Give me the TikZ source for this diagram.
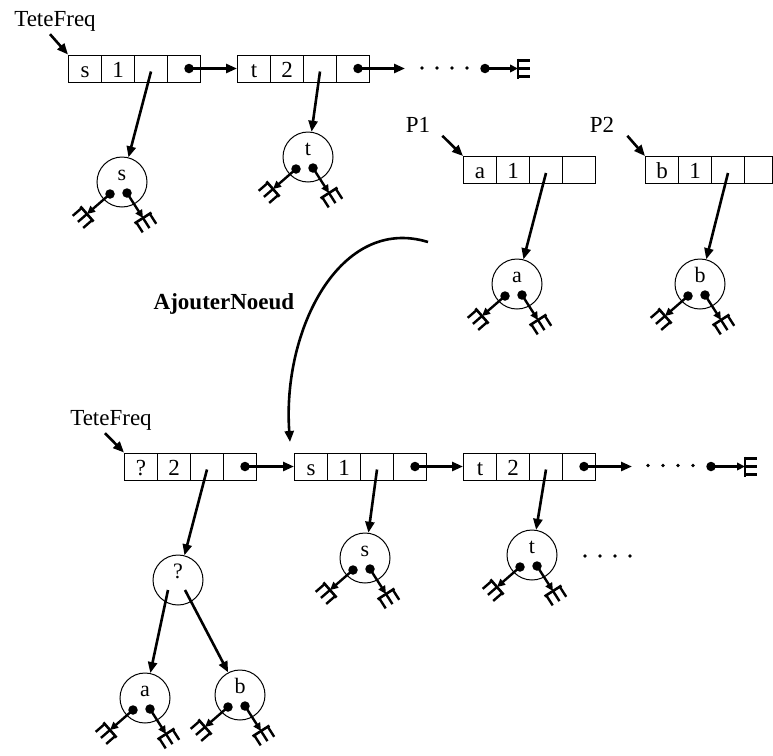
\documentclass[tikz,border=0pt]{standalone}
\usepackage{fontspec}
\setmainfont{Liberation Serif}
\usetikzlibrary{arrows.meta,calc}
\tikzset{
  lab/.style={font=\fontsize{23}{23}\selectfont, inner sep=0pt},
  boldlab/.style={font=\bfseries\fontsize{23}{23}\selectfont, inner sep=0pt},
  cell/.style={draw, line width=1pt, minimum width=33pt, minimum height=27pt, inner sep=0pt, anchor=west,
    font=\fontsize{23}{23}\selectfont, text height=17pt, text depth=0pt},
  tree/.style={circle, draw, line width=1pt, minimum size=50pt, inner sep=0pt,
    font=\fontsize{22}{22}\selectfont, text height=10pt, text depth=14pt},
  dot/.style={circle, fill, inner sep=0pt, minimum size=9.5pt},
  ptr/.style={line width=2.6pt, -{Triangle[length=11pt,width=9pt]}},
  leafptr/.style={line width=2.4pt, -{Triangle[length=8pt,width=7.5pt]}},
  nullsym/.pic={
    \draw[line width=2.6pt] (0,-10) -- (0,10);
    \foreach \q in {-8,0,8} \draw[line width=2.4pt] (0,\q) -- (12,\q);
  }
}
\newcommand{\record}[5]{%
  \node[cell] (#1-1) at (#2,#3) {#4};
  \node[cell] (#1-2) at (#2+33,#3) {#5};
  \node[cell] (#1-3) at (#2+66,#3) {};
  \node[cell] (#1-4) at (#2+99,#3) {};
}
\newcommand{\nullarrow}[2]{%
  \draw[leafptr] (#1.center) -- (#2);
  \path let \p1=($(#2)-(#1.center)$), \n1={atan2(\y1,\x1)} in (#2) pic[rotate=\n1]{nullsym};
}
\newcommand{\leaves}[1]{%
  \node[dot] (#1-l) at ($(#1.center)+(-12,12)$) {};
  \node[dot] (#1-r) at ($(#1.center)+(5,11)$) {};
  \coordinate (#1-lt) at ($(#1.center)+(-35,32)$);
  \coordinate (#1-rt) at ($(#1.center)+(21,36)$);
  \nullarrow{#1-l}{#1-lt}
  \nullarrow{#1-r}{#1-rt}
}
\begin{document}
\begin{tikzpicture}[x=1pt,y=-1pt]
\useasboundingbox (0,0) rectangle (773,755);

% ---------- top list ----------
\node[lab] (tf1) at (55,21) {TeteFreq};
\record{T1}{68}{68.5}{s}{1}
\record{T2}{237}{68.5}{t}{2}
\draw[ptr] ($(tf1.south)+(-5,3)$) -- (T1-1.north west);

\node[dot] (T1d) at ($(T1-4.center)+(5,0)$) {};
\draw[ptr] (T1d.center) -- (T2-1.west);
\node[dot] (T2d) at ($(T2-4.center)+(5,0)$) {};
\coordinate (T2e) at (405,68.5);
\draw[ptr] (T2d.center) -- (T2e);
\foreach \x in {422,437,452,467} \fill (\x,68) circle (1.9);
\node[dot] (T3d) at (485,68.5) {};
\coordinate (G1) at (518,68.5);
\nullarrow{T3d}{G1}

\node[tree] (cS1) at (122,182) {s};
\node[tree] (cT1) at (308,157) {t};
\draw[ptr] ([yshift=-3pt]T1-3.center) -- (cS1);
\draw[ptr] ([yshift=-3pt]T2-3.center) -- (cT1);
\leaves{cS1}
\leaves{cT1}

% ---------- P1 / P2 ----------
\node[lab] (p1) at (418,125) {P1};
\node[lab] (p2) at (602,125) {P2};
\record{P1}{463}{170}{a}{1}
\node[cell] (P2-1) at (645,170) {b};
\node[cell] (P2-2) at (678,170) {1};
\node[cell] (P2-3) at (711,170) {};
\node[cell, minimum width=28pt] (P2-4) at (744,170) {};
\draw[ptr] ($(p1.south east)+(12,3)$) -- (P1-1.north west);
\draw[ptr] ($(p2.south east)+(13,3)$) -- (P2-1.north west);

\node[tree] (cA1) at (517,284) {a};
\node[tree] (cB1) at (700,284) {b};
\draw[ptr] ([yshift=-3pt]P1-3.center) -- (cA1);
\draw[ptr] ([yshift=-3pt]P2-3.center) -- (cB1);
\leaves{cA1}
\leaves{cB1}

% ---------- operation ----------
\node[boldlab] (op) at (224,304) {AjouterNoeud};
\coordinate (cvS) at (428,242);
\coordinate (cvE) at (290,442);
\draw[ptr] (cvS) .. controls (340,215) and (282,330) .. (cvE);

% ---------- bottom list ----------
\node[lab] (tf2) at (111,420) {TeteFreq};
\record{B1}{124}{466.5}{?}{2}
\record{B2}{294}{466.5}{s}{1}
\record{B3}{463}{466.5}{t}{2}
\draw[ptr] ($(tf2.south)+(-6,3)$) -- (B1-1.north west);

\node[dot] (B1d) at ($(B1-4.center)+(5,0)$) {};
\draw[ptr] (B1d.center) -- (B2-1.west);
\node[dot] (B2d) at ($(B2-4.center)+(5,0)$) {};
\draw[ptr] (B2d.center) -- (B3-1.west);
\node[dot] (B3d) at ($(B3-4.center)+(5,0)$) {};
\coordinate (B3e) at (632,466.5);
\draw[ptr] (B3d.center) -- (B3e);
\foreach \x in {648,663,678,693} \fill (\x,465.5) circle (1.9);
\node[dot] (B4d) at (711,466.5) {};
\coordinate (G2) at (745,466.5);
\nullarrow{B4d}{G2}

\node[tree] (cQ) at (178,580) {?};
\node[tree] (cS2) at (365,558) {s};
\node[tree] (cT2) at (532,555) {t};
\draw[ptr] ([yshift=-3pt]B1-3.center) -- (cQ);
\draw[ptr] ([yshift=-3pt]B2-3.center) -- (cS2);
\draw[ptr] ([yshift=-3pt]B3-3.center) -- (cT2);
\leaves{cS2}
\leaves{cT2}
\foreach \x in {585,600,615,630} \fill (\x,556) circle (1.9);

\node[tree] (cA2) at (145,698) {a};
\node[tree] (cB2) at (240,695) {b};
\draw[ptr] ($(cQ.center)+(-10,10)$) -- (cA2);
\draw[ptr] ($(cQ.center)+(7,10)$) -- (cB2);
\leaves{cA2}
\leaves{cB2}
\end{tikzpicture}
\end{document}
